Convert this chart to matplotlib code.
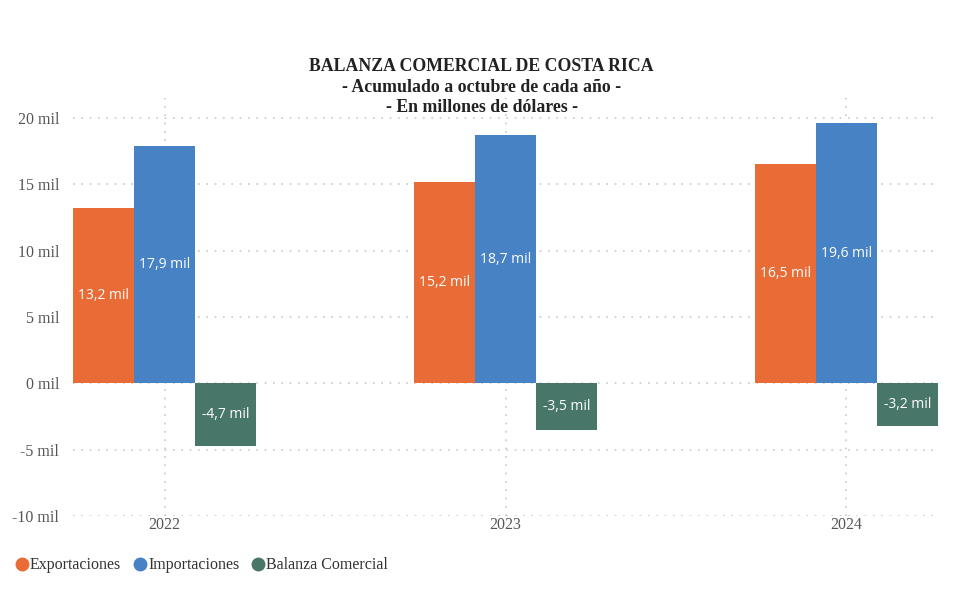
import matplotlib.pyplot as plt
import numpy as np
from matplotlib.lines import Line2D

years = ["2022", "2023", "2024"]
exportaciones = [13.2, 15.2, 16.5]
importaciones = [17.9, 18.7, 19.6]
balanza = [-4.7, -3.5, -3.2]
series_names = ["Exportaciones", "Importaciones", "Balanza Comercial"]
colors = ["#E96C36", "#4682C4", "#48776A"]

fig = plt.figure(figsize=(9.63, 5.95), dpi=100)
ax = fig.add_axes([0.0758, 0.1328, 0.8983, 0.7025])

x = np.arange(len(years))
w = 0.179
for i, (vals, c) in enumerate(zip([exportaciones, importaciones, balanza], colors)):
    pos = x + (i - 1) * w
    bars = ax.bar(pos, vals, width=w, color=c, zorder=3)
    for b, v in zip(bars, vals):
        lbl = f"{v:.1f}".replace(".", ",") + " mil"
        ax.text(b.get_x() + b.get_width() / 2, v / 2, lbl, ha="center", va="center",
                color="white", fontsize=10, family="Open Sans", zorder=4)

ax.set_xlim(-0.269, 2.269)
ax.set_ylim(-10, 21.5)
ax.set_yticks([-10, -5, 0, 5, 10, 15, 20])
ax.set_yticklabels([f"{t} mil" for t in [-10, -5, 0, 5, 10, 15, 20]])
ax.set_xticks(x)
ax.set_xticklabels(years)
for lab in ax.get_xticklabels() + ax.get_yticklabels():
    lab.set_family("Liberation Serif")
    lab.set_fontsize(11.5)
    lab.set_color("#555555")
ax.tick_params(axis="y", length=0, pad=10)
ax.tick_params(axis="x", length=0, pad=1)
ax.grid(True, color="#c8c8c8", linestyle=(0, (1, 4)), linewidth=1.2, zorder=0)
for s in ax.spines.values():
    s.set_visible(False)

fig.text(0.5, 0.888, "BALANZA COMERCIAL DE COSTA RICA", ha="center", va="center",
         family="Liberation Serif", fontweight="bold", fontsize=12.8, color="#222222")
fig.text(0.5, 0.853, "- Acumulado a octubre de cada año -", ha="center", va="center",
         family="Liberation Serif", fontweight="bold", fontsize=12.8, color="#222222")
fig.text(0.5, 0.819, "- En millones de dólares -", ha="center", va="center",
         family="Liberation Serif", fontweight="bold", fontsize=12.8, color="#222222")

handles = [Line2D([], [], marker="o", linestyle="", markersize=9, color=c) for c in colors]
leg = fig.legend(handles, series_names, loc="center left", bbox_to_anchor=(0.005, 0.05),
                 ncol=3, frameon=False, handlelength=0.7, handletextpad=0.15,
                 columnspacing=0.85, borderpad=0.2,
                 prop={"family": "Liberation Serif", "size": 11.5})
for t in leg.get_texts():
    t.set_color("#333333")

fig.savefig("out.png", dpi=100)
